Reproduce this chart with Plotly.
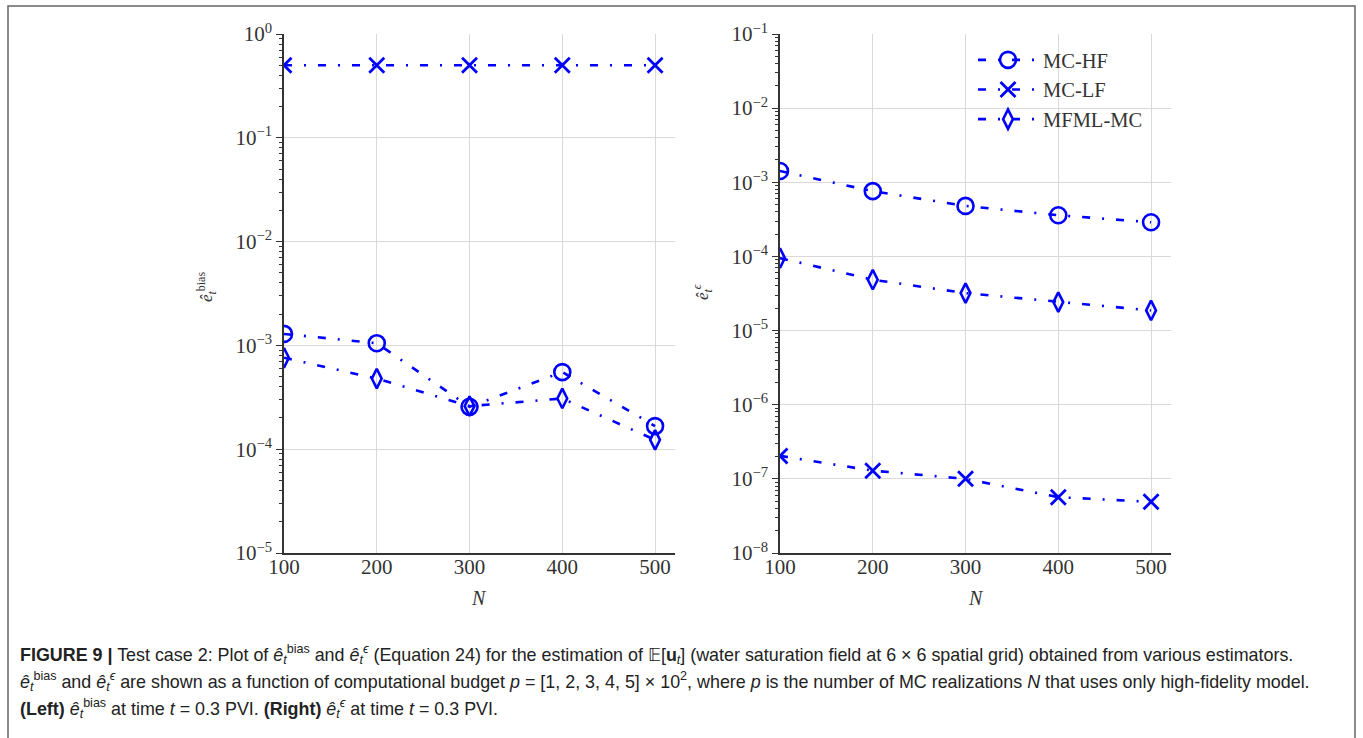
import plotly.graph_objects as go

N = [100, 200, 300, 400, 500]

# Left panel: bias error
bias_mc_hf = [1.29e-3, 1.05e-3, 2.56e-4, 5.53e-4, 1.67e-4]
bias_mc_lf = [0.50, 0.50, 0.50, 0.50, 0.50]
bias_mfml = [7.6e-4, 4.79e-4, 2.60e-4, 3.08e-4, 1.23e-4]

# Right panel: statistical error
eps_mc_hf = [1.42e-3, 7.6e-4, 4.8e-4, 3.59e-4, 2.89e-4]
eps_mc_lf = [2.04e-7, 1.29e-7, 1.0e-7, 5.66e-8, 4.9e-8]
eps_mfml = [9.5e-5, 4.85e-5, 3.2e-5, 2.42e-5, 1.87e-5]

series_names = ["MC-HF", "MC-LF", "MFML-MC"]

left_exponents = [-5, -4, -3, -2, -1, 0]
right_exponents = [-8, -7, -6, -5, -4, -3, -2, -1]

W, H = 1363, 738
BLUE = "#0000ff"
DASH = "8px,12px,2px,12px"
SERIF = "Liberation Serif, DejaVu Serif, serif"
CAP = "Liberation Sans, Arial, sans-serif"
TXT = "#333333"

def px_x(p):
    return p / W

def px_y(p):
    return 1 - p / H

markers = [
    dict(symbol="circle-open", size=16, color=BLUE, line=dict(width=2.6, color=BLUE)),
    dict(symbol="x-thin", size=15, color=BLUE, line=dict(width=2.8, color=BLUE)),
    dict(symbol="diamond-tall-open", size=14, color=BLUE, line=dict(width=2.6, color=BLUE)),
]

fig = go.Figure()
left = [bias_mc_hf, bias_mc_lf, bias_mfml]
right = [eps_mc_hf, eps_mc_lf, eps_mfml]
for i, (name, ys) in enumerate(zip(series_names, left)):
    fig.add_trace(go.Scatter(x=N, y=ys, name=name, mode="lines+markers",
                             line=dict(color=BLUE, width=2.6, dash=DASH),
                             marker=markers[i], xaxis="x", yaxis="y",
                             showlegend=False, cliponaxis=True))
for i, (name, ys) in enumerate(zip(series_names, right)):
    fig.add_trace(go.Scatter(x=N, y=ys, name=name, mode="lines+markers",
                             line=dict(color=BLUE, width=2.6, dash=DASH),
                             marker=markers[i], xaxis="x2", yaxis="y2",
                             showlegend=True, cliponaxis=True))

ytop, ybot = px_y(34), px_y(553)

def xax(dom, anchor):
    return dict(domain=dom, range=[100, 521.5], tickvals=N, ticktext=[str(n) for n in N],
                showgrid=True, gridcolor="#d9d9d9", gridwidth=1.3,
                showline=True, linecolor="#333333", linewidth=1.5, ticks="",
                ticklabelstandoff=-6,
                tickfont=dict(family=SERIF, size=21, color=TXT),
                zeroline=False, automargin=False, anchor=anchor)

def yax(exps, anchor):
    major = [10.0 ** e for e in exps]
    labels = ["10<sup>%s</sup>" % (str(e).replace("-", "−")) for e in exps]
    minor_vals = [m * 10.0 ** e for e in exps[:-1] for m in range(2, 10)]
    return dict(domain=[ybot, ytop], type="log", range=[exps[0], exps[-1]],
                tickmode="array", tickvals=major, ticktext=labels,
                showgrid=True, gridcolor="#d9d9d9", gridwidth=1.3,
                showline=True, linecolor="#333333", linewidth=1.5,
                ticks="outside", ticklen=6, tickcolor="#333333", tickwidth=1.2,
                minor=dict(tickmode="array", tickvals=minor_vals, ticks="outside",
                           ticklen=3, tickcolor="#333333", tickwidth=1, showgrid=False),
                tickfont=dict(family=SERIF, size=21, color=TXT),
                zeroline=False, automargin=False, anchor=anchor)

xa1 = xax([px_x(284), px_x(675)], "y")
xa2 = xax([px_x(780), px_x(1171)], "y2")
ya1 = yax(left_exponents, "x")
ya2 = yax(right_exponents, "x2")

def ann(x, y, text, size, angle=0, family=SERIF, color=TXT, xanchor="center"):
    return dict(x=px_x(x), y=px_y(y), xref="paper", yref="paper", text=text,
                textangle=angle, showarrow=False, xanchor=xanchor, yanchor="middle",
                font=dict(family=family, size=size, color=color))

annotations = [
    ann(207, 287, "<i>ê</i><sub><i>t</i></sub><sup>bias</sup>", 17, -90),
    ann(703, 292, "<i>ê</i><sub><i>t</i></sub><sup><i>ϵ</i></sup>", 17, -90),
    ann(479, 598, "<i>N</i>", 20),
    ann(976, 598, "<i>N</i>", 20),
]

eb = "<i>ê</i><sub><i>t</i></sub><sup>bias</sup>"
ee = "<i>ê</i><sub><i>t</i></sub><sup><i>ϵ</i></sup>"
caption_lines = [
    "<b>FIGURE 9 |</b> Test case 2: Plot of " + eb + " and " + ee +
    " (Equation 24) for the estimation of 𝔼[<b>u</b><sub><i>t</i></sub>] (water saturation field at 6 × 6 spatial grid) obtained from various estimators.",
    eb + " and " + ee + " are shown as a function of computational budget <i>p</i> = [1, 2, 3, 4, 5] × 10<sup>2</sup>, where <i>p</i> is the number of MC realizations <i>N</i> that uses only high-fidelity model.",
    "<b>(Left)</b> " + eb + " at time <i>t</i> = 0.3 PVI. <b>(Right)</b> " + ee + " at time <i>t</i> = 0.3 PVI.",
]
for line, yy in zip(caption_lines, [654, 681, 708]):
    annotations.append(ann(18, yy, line, 17.9, family=CAP, color="#222222", xanchor="left"))

shapes = [
    dict(type="path", xref="paper", yref="paper",
         path=f"M {px_x(8)} {px_y(760)} L {px_x(8)} {px_y(6)} L {px_x(1355)} {px_y(6)} L {px_x(1355)} {px_y(760)}",
         line=dict(color="#666666", width=1.5)),
]

fig.update_layout(
    width=W, height=H, autosize=False,
    margin=dict(l=0, r=0, t=0, b=0),
    paper_bgcolor="white", plot_bgcolor="white",
    xaxis=xa1, yaxis=ya1, xaxis2=xa2, yaxis2=ya2,
    legend=dict(x=px_x(973), y=px_y(40), xanchor="left", yanchor="top",
                bgcolor="rgba(0,0,0,0)", borderwidth=0,
                font=dict(family=SERIF, size=20.5, color=TXT),
                tracegroupgap=0, itemwidth=60),
    annotations=annotations, shapes=shapes,
    showlegend=True,
)

fig.write_html("out.html", config={"displayModeBar": False},
               post_script="document.body.style.margin='0px';")
